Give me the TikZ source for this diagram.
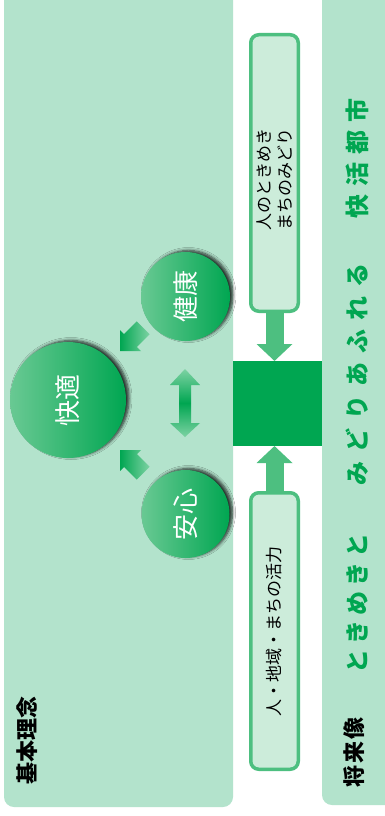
\documentclass[tikz,border=0pt]{standalone}
\usepackage{fontspec}
\newfontfamily\jp{Noto Sans CJK JP}
\usetikzlibrary{arrows.meta,shadows.blur}
\definecolor{panelbg}{RGB}{179,227,204}
\definecolor{boxfill}{RGB}{204,236,218}
\definecolor{boxline}{RGB}{77,191,128}
\definecolor{kgreen}{RGB}{0,166,81}
\definecolor{clight}{RGB}{105,201,147}
\definecolor{alight}{RGB}{125,210,163}
\tikzset{
 panel/.style={fill=panelbg, rounded corners=10pt},
 mbox/.style={draw=boxline, line width=3.5pt, fill=boxfill, rounded corners=8pt, rotate=90,
   minimum width=276.5pt, minimum height=47.5pt, inner sep=0pt,
   font=\jp\fontsize{17}{21}\selectfont},
 boxtext/.style={rotate=90, font=\jp\fontsize{17}{21}\selectfont, align=center, inner sep=0pt},
 conn/.style={draw=boxline, line width=18pt, -{Triangle[width=35pt,length=17pt]}},
 circ/.style={circle, inner sep=0pt, left color=clight, right color=kgreen,
   blur shadow={shadow xshift=3pt, shadow yshift=1.5pt, shadow blur radius=3pt, shadow blur steps=6, shadow opacity=80}},
 ctext/.style={rotate=90, text=white, font=\jp\fontsize{26}{30}\selectfont, inner sep=0pt},
 title/.style={rotate=90, font=\jp\bfseries\fontsize{22}{26}\selectfont, inner sep=0pt},
 motto/.style={rotate=90, text=kgreen, font=\jp\bfseries\fontsize{24}{28}\selectfont, inner sep=0pt},
 diag/.style={left color=kgreen, right color=alight},
}
\begin{document}
\begin{tikzpicture}[x=1pt, y=-1pt]
\useasboundingbox (0,0) rectangle (385,816);
\fill[white] (0,0) rectangle (385,816);
% panels
\path[panel] (4,-20) rectangle (233,807);
\path[panel] (322,-20) rectangle (405,805);
% circles
\node[circ, minimum size=116pt] (kaiteki) at (68,400) {};
\node[ctext] (kaiteki-t) at (kaiteki) {快適};
\node[circ, minimum size=89pt] (kenko) at (185.5,296.5) {};
\node[ctext] (kenko-t) at (kenko) {健康};
\node[circ, minimum size=88pt] (anshin) at (185.5,514) {};
\node[ctext] (anshin-t) at (anshin) {安心};
% double arrow
\shade[top color=alight, bottom color=alight, middle color=kgreen]
  (185,369) -- (200,385) -- (191,385) -- (191,423) -- (200,423) -- (185,437)
  -- (170,423) -- (179,423) -- (179,385) -- (170,385) -- cycle;
% diagonal arrows
\shade[diag] (120,351) -- (120,330) -- (124.1,334.1) -- (136.8,321.4) -- (149.6,334.2)
  -- (136.9,346.9) -- (141,351) -- cycle;
\shade[diag] (120,450) -- (120,471) -- (124.1,466.9) -- (136.8,479.6) -- (149.6,466.8)
  -- (136.9,454.1) -- (141,450) -- cycle;
% centre square
\node[fill=kgreen, minimum width=89pt, minimum height=85pt, inner sep=0pt, outer sep=0pt] (sq) at (277.5,403.5) {};
% boxes
\node[mbox] (topbox) at (274.5,173) {};
\node[boxtext] (toptext) at (275,179) {人のときめき\\まちのみどり};
\node[mbox] (botbox) at (274.5,631) {人・地域・まちの活力};
\draw[conn] (topbox.west) -- (topbox.west |- sq.north);
\draw[conn] (botbox.east) -- (botbox.east |- sq.south);
% titles
\node[title] (kihon) at (27.5,740) {基本理念};
\node[title] (shorai) at (354,752) {将\hspace{2pt}来\hspace{2pt}像};
\node[motto] (m1) at (357,603) {と\hspace{5pt}き\hspace{5pt}め\hspace{5pt}き\hspace{5pt}と};
\node[motto] (m2) at (357,374) {み\hspace{9pt}ど\hspace{9pt}り\hspace{9pt}あ\hspace{9pt}ふ\hspace{9pt}れ\hspace{9pt}る};
\node[motto] (m3) at (357,158) {快\hspace{8pt}活\hspace{8pt}都\hspace{8pt}市};
\end{tikzpicture}
\end{document}
